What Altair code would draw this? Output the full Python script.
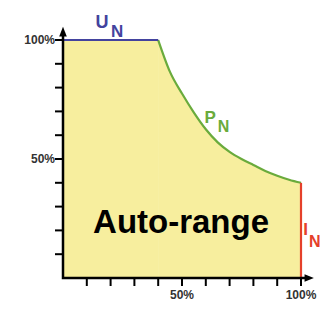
import altair as alt
import pandas as pd

# Data (percent of nominal)
curve_x = [40, 45, 50, 55, 60, 65, 70, 75, 80, 85, 90, 95, 100]
curve_y = [100, 86.5, 77.5, 69.5, 62.5, 57, 53, 50, 47.5, 45, 43, 41.3, 40]
un_x = [0, 40]
un_y = [100, 100]
in_x = [100]
in_y_top = [40]
tick_values = [10, 20, 30, 40, 50, 60, 70, 80, 90, 100]
tick_labels = ["", "", "", "", "50%", "", "", "", "", "100%"]

FILL = "#f7ee9e"
BLUE = "#43439e"
GREEN = "#6aab3c"
RED = "#e5402a"

DMAX = 106
W = H = 2.38 * DMAX
xs = alt.Scale(domain=[0, DMAX], nice=False, zero=False)
ys = alt.Scale(domain=[0, DMAX], nice=False, zero=False)
X = lambda f: alt.X(f, scale=xs, axis=None)
Y = lambda f: alt.Y(f, scale=ys, axis=None)

curve_df = pd.DataFrame({"x": curve_x, "y": curve_y})
un_df = pd.DataFrame({"x": un_x, "y": un_y})
flat_df = pd.DataFrame({"x": [un_x[0]], "x2": [un_x[1]], "y": [0], "y2": [un_y[0]]})
in_df = pd.DataFrame({"x": in_x, "y": [0], "y2": in_y_top})
ticks_df = pd.DataFrame({"v": tick_values, "label": tick_labels})

flat = alt.Chart(flat_df).mark_rect(color=FILL, stroke=FILL, strokeWidth=1).encode(
    x=X("x:Q"), x2="x2:Q", y=Y("y:Q"), y2="y2:Q"
)
area = alt.Chart(curve_df).mark_area(color=FILL, interpolate="monotone").encode(
    x=X("x:Q"), y=Y("y:Q"), y2=alt.datum(0)
)
green = alt.Chart(curve_df).mark_line(color=GREEN, strokeWidth=2.2, interpolate="monotone").encode(
    x=X("x:Q"), y=Y("y:Q")
)
blue = alt.Chart(un_df).mark_line(color=BLUE, strokeWidth=2.2).encode(x=X("x:Q"), y=Y("y:Q"))
red = alt.Chart(in_df).mark_rule(color=RED, strokeWidth=2.2).encode(
    x=X("x:Q"), y=Y("y:Q"), y2="y2:Q"
)

# ticks (drawn outward from the axes)
xticks = alt.Chart(ticks_df).mark_rule(color="black", strokeWidth=2).encode(
    x=X("v:Q"), y=alt.value(H), y2=alt.value(H + 8)
)
yticks = alt.Chart(ticks_df).mark_rule(color="black", strokeWidth=2).encode(
    y=Y("v:Q"), x=alt.value(0), x2=alt.value(-8)
)
lab_style = dict(font="Liberation Sans", fontWeight="bold", fontSize=12, color="#333333")
xlabels = alt.Chart(ticks_df).mark_text(align="center", baseline="top", **lab_style).encode(
    x=X("v:Q"), y=alt.value(H + 12), text="label:N"
)
ylabels = alt.Chart(ticks_df).mark_text(align="right", baseline="middle", **lab_style).encode(
    y=Y("v:Q"), x=alt.value(-8), text="label:N"
)

# axis lines
axis_df = pd.DataFrame({"x": [0, 0, 0, 103], "y": [103, 0, 0, 0], "order": [0, 1, 2, 3]})
axis_line = alt.Chart(axis_df).mark_line(color="black", strokeWidth=2.5).encode(
    x=X("x:Q"), y=Y("y:Q"), order="order:Q"
)
# arrow heads as small filled triangles (area marks)
up_df = pd.DataFrame({"x": [-1.6, 0, 1.6], "y": [101.5, 105.6, 101.5], "base": [101.5] * 3})
up = alt.Chart(up_df).mark_area(color="black", opacity=1, interpolate="linear").encode(
    x=X("x:Q"), y=Y("y:Q"), y2="base:Q"
)
right_df = pd.DataFrame({"y": [-1.6, 0, 1.6], "x": [101.5, 105.4, 101.5], "base": [101.5] * 3})
right = alt.Chart(right_df).mark_area(color="black", opacity=1, orient="horizontal",
                                      interpolate="linear").encode(
    y=Y("y:Q"), x=X("x:Q"), x2="base:Q"
)

def label(text, x, y, color, size, weight="bold"):
    return alt.Chart(pd.DataFrame({"x": [x], "y": [y], "t": [text]})).mark_text(
        color=color, fontSize=size, fontWeight=weight, font="Liberation Sans",
        align="center", baseline="alphabetic",
    ).encode(x=X("x:Q"), y=Y("y:Q"), text="t:N")

labels = [
    label("U", 16.4, 105.0, BLUE, 18),
    label("N", 22.8, 101.3, BLUE, 17),
    label("P", 61.8, 65.1, GREEN, 17),
    label("N", 67.4, 61.3, GREEN, 16),
    label("I", 101.9, 18.0, RED, 17),
    label("N", 105.8, 13.0, RED, 16),
    label("Auto-range", 49.6, 18.9, "black", 33),
]

TOP = 40 - (H - 2.38 * 100)
chart = alt.layer(
    flat, area, green, blue, red, xticks, yticks, xlabels, ylabels,
    axis_line, *labels, up, right
).properties(
    width=W, height=H,
    autosize=alt.AutoSizeParams(type="none"),
    padding={"left": 55, "top": TOP - 8, "right": 312 - 55 - W, "bottom": 293 - (TOP - 8) - H},
    background="white",
).configure_view(stroke=None)

chart.save("out.html", embed_options={"renderer": "svg", "actions": False})
